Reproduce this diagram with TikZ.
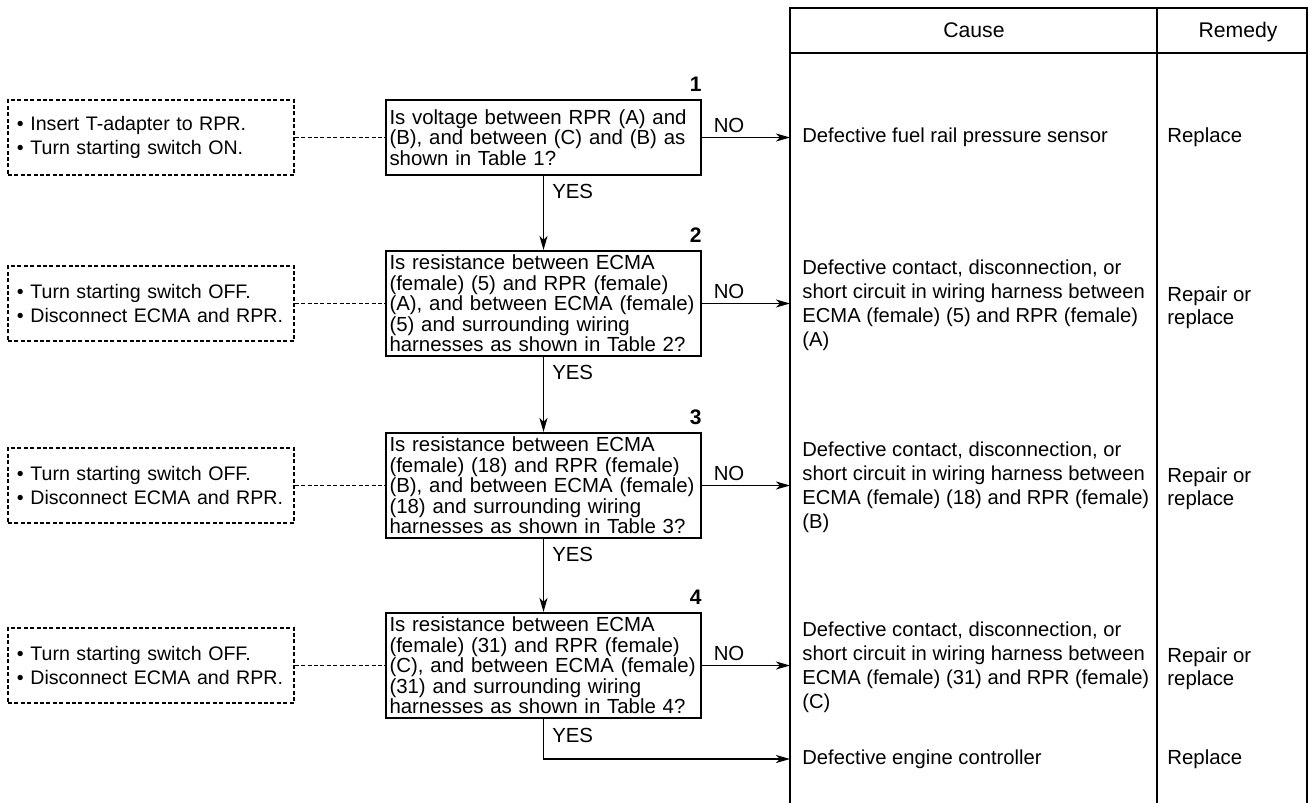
\documentclass[tikz,border=0pt]{standalone}
\usepackage{fontspec}
\setmainfont{Liberation Sans}
\usetikzlibrary{arrows.meta}
\tikzset{
  rule/.style={draw=black, line width=0.8pt},
  qbox/.style={draw=black, line width=1pt, rectangle, text width=154pt, inner xsep=1.75pt, inner ysep=0pt,
    align=left, font=\hyphenpenalty10000\relax\fontsize{10.2}{10.25}\selectfont},
  dbox/.style={draw=black, line width=0.75pt, dash pattern=on 2pt off 1.2pt, rectangle, text width=134pt,
    inner xsep=4.5pt, inner ysep=0pt, minimum height=37.5pt, align=left,
    font=\hyphenpenalty10000\relax\fontsize{9.8}{12}\selectfont},
  dline/.style={draw=black, line width=0.75pt, dash pattern=on 2pt off 1.2pt},
  arr/.style={draw=black, line width=0.75pt, -{Stealth[length=7pt, width=4pt, inset=2pt]}},
  cause/.style={anchor=west, inner xsep=6pt, inner ysep=0pt, align=left, font=\fontsize{10.1}{12}\selectfont},
  remedy/.style={anchor=west, inner xsep=5pt, inner ysep=0pt, align=left, font=\fontsize{10.2}{11.6}\selectfont},
  hd/.style={inner sep=0pt, anchor=base, font=\fontsize{10.6}{12}\selectfont},
  num/.style={inner sep=0pt, font=\bfseries\fontsize{10.5}{12}\selectfont},
  yes/.style={inner sep=0pt, anchor=north west, xshift=4pt, yshift=-4pt, font=\fontsize{10.2}{12}\selectfont},
  no/.style={inner sep=0pt, anchor=south west, xshift=5.5pt, yshift=2pt, font=\fontsize{10.2}{12}\selectfont},
}

\begin{document}
\begin{tikzpicture}[x=0.5pt, y=-0.5pt]
  \fill[white] (0,0) rectangle (1308,803);
  \useasboundingbox (0,0) rectangle (1308,803);
  \def\qx{543.5}

  % cause / remedy table
  \draw[rule] (790,803) -- (790,8) -- (1307,8) -- (1307,803);
  \draw[rule] (790,53) -- (1307,53);
  \draw[rule] (1157,8) -- (1157,803);
  \node[hd] (hcause) at (974,37) {Cause};
  \node[hd] (hremedy) at (1238,37) {Remedy};

  % check steps
  \node[qbox, minimum height=37.5pt] (q1) at (\qx,137.5)
    {Is voltage between RPR (A) and\\(B), and between (C) and (B) as\\shown in Table 1?};
  \node[qbox, minimum height=52.5pt] (q2) at (\qx,303.5)
    {Is resistance between ECMA\\(female) (5) and RPR (female)\\(A), and between ECMA (female)\\(5) and surrounding wiring\\harnesses as shown in Table 2?};
  \node[qbox, minimum height=52.5pt] (q3) at (\qx,485.5)
    {Is resistance between ECMA\\(female) (18) and RPR (female)\\(B), and between ECMA (female)\\(18) and surrounding wiring\\harnesses as shown in Table 3?};
  \node[qbox, minimum height=52.5pt] (q4) at (\qx,665.5)
    {Is resistance between ECMA\\(female) (31) and RPR (female)\\(C), and between ECMA (female)\\(31) and surrounding wiring\\harnesses as shown in Table 4?};

  \node[num, anchor=base east] (n1) at ([yshift=4pt]q1.north east) {1};
  \node[num, anchor=base east] (n2) at ([yshift=4pt]q2.north east) {2};
  \node[num, anchor=base east] (n3) at ([yshift=4pt]q3.north east) {3};
  \node[num, anchor=base east] (n4) at ([yshift=4pt]q4.north east) {4};

  % preparation notes
  \node[dbox] (d1) at (151,137.5) {• Insert T-adapter to RPR.\\• Turn starting switch ON.};
  \node[dbox] (d2) at (151,303.5) {• Turn starting switch OFF.\\• Disconnect ECMA and RPR.};
  \node[dbox] (d3) at (151,485.5) {• Turn starting switch OFF.\\• Disconnect ECMA and RPR.};
  \node[dbox] (d4) at (151,665.5) {• Turn starting switch OFF.\\• Disconnect ECMA and RPR.};
  \foreach \i in {1,...,4}
    \draw[dline] (d\i) -- (q\i);

  % causes and remedies
  \node[cause] (c1) at (790,137.5) {Defective fuel rail pressure sensor};
  \node[cause] (c2) at (790,305) {Defective contact, disconnection, or\\short circuit in wiring harness between\\ECMA (female) (5) and RPR (female)\\(A)};
  \node[cause] (c3) at (790,487) {Defective contact, disconnection, or\\short circuit in wiring harness between\\ECMA (female) (18) and RPR (female)\\(B)};
  \node[cause] (c4) at (790,667) {Defective contact, disconnection, or\\short circuit in wiring harness between\\ECMA (female) (31) and RPR (female)\\(C)};
  \node[cause] (c5) at (790,759) {Defective engine controller};

  \node[remedy] (r1) at (1157,137.5) {Replace};
  \node[remedy] (r2) at (1157,308) {Repair or\\replace};
  \node[remedy] (r3) at (1157,489) {Repair or\\replace};
  \node[remedy] (r4) at (1157,669) {Repair or\\replace};
  \node[remedy] (r5) at (1157,759) {Replace};

  % NO branches
  \draw[arr] (q1) -- node[no, pos=0] {NO} (q1 -| c1.west);
  \draw[arr] (q2) -- node[no, pos=0] {NO} (q2 -| c2.west);
  \draw[arr] (q3) -- node[no, pos=0] {NO} (q3 -| c3.west);
  \draw[arr] (q4) -- node[no, pos=0] {NO} (q4 -| c4.west);

  % YES branches
  \draw[arr] (q1) -- node[yes, pos=0] {YES} (q2);
  \draw[arr] (q2) -- node[yes, pos=0] {YES} (q3);
  \draw[arr] (q3) -- node[yes, pos=0] {YES} (q4);
  \draw[arr] (q4) |- node[yes, pos=0] {YES} (c5);
\end{tikzpicture}
\end{document}
